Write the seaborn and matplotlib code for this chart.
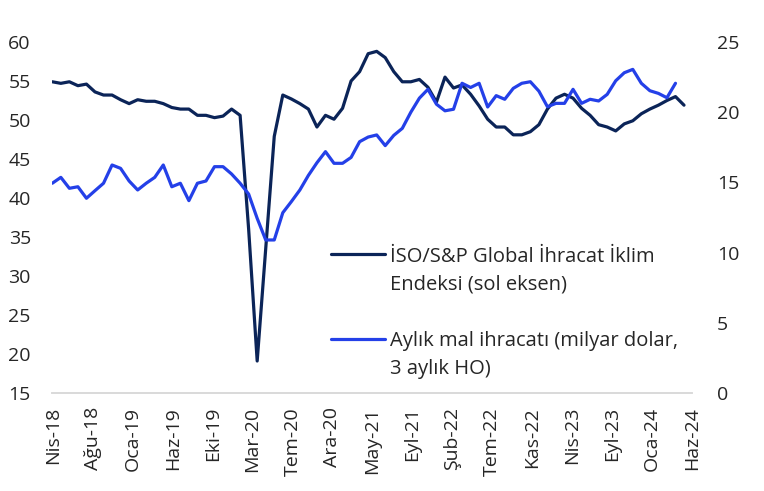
import numpy as np
import pandas as pd
import matplotlib
matplotlib.use("Agg")
import matplotlib.pyplot as plt
from matplotlib.lines import Line2D
import seaborn as sns

# ---- data (monthly, Apr 2018 onwards) ----
pmi_export = [54.9, 54.7, 54.9, 54.4, 54.6, 53.6, 53.2, 53.2, 52.6, 52.1,
              52.6, 52.4, 52.4, 52.1, 51.6, 51.4, 51.4, 50.6, 50.6, 50.3,
              50.5, 51.4, 50.6, 36.0, 19.1, 33.5, 47.9, 53.2, 52.7, 52.1,
              51.4, 49.1, 50.6, 50.1, 51.5, 55.0, 56.2, 58.5, 58.8, 58.0,
              56.2, 54.9, 54.9, 55.2, 54.2, 52.3, 55.5, 54.1, 54.5, 53.3,
              51.8, 50.1, 49.1, 49.1, 48.1, 48.1, 48.5, 49.4, 51.4, 52.8,
              53.3, 52.8, 51.5, 50.6, 49.4, 49.1, 48.6, 49.5, 49.9, 50.8,
              51.4, 51.9, 52.5, 53.0, 51.9]
exports_bn = [14.94, 15.36, 14.58, 14.69, 13.87, 14.41, 14.94, 16.24, 16.00, 15.10,
              14.46, 14.94, 15.36, 16.24, 14.69, 14.94, 13.70, 14.94, 15.10, 16.12,
              16.12, 15.60, 14.94, 14.17, 12.44, 10.90, 10.90, 12.84, 13.63, 14.46,
              15.50, 16.40, 17.19, 16.36, 16.36, 16.78, 17.90, 18.23, 18.38, 17.62,
              18.35, 18.85, 20.00, 21.00, 21.63, 20.57, 20.10, 20.21, 22.06, 21.76,
              22.06, 20.37, 21.18, 20.92, 21.70, 22.06, 22.17, 21.50, 20.39, 20.63,
              20.63, 21.63, 20.63, 20.92, 20.80, 21.27, 22.24, 22.81, 23.05, 22.06,
              21.53, 21.34, 21.03, 22.06]
tick_labels = ["Nis-18", "Ağu-18", "Oca-19", "Haz-19", "Eki-19", "Mar-20", "Tem-20",
               "Ara-20", "May-21", "Eyl-21", "Şub-22", "Tem-22", "Kas-22", "Nis-23",
               "Eyl-23", "Oca-24", "Haz-24"]
label_pmi = "İSO/S&P Global İhracat İklim"
label_pmi2 = "Endeksi (sol eksen)"
label_exp = "Aylık mal ihracatı (milyar dolar,"
label_exp2 = "3 aylık HO)"

df1 = pd.DataFrame({"m": np.arange(len(pmi_export)), "v": pmi_export})
df2 = pd.DataFrame({"m": np.arange(len(exports_bn)), "v": exports_bn})

sns.set_theme(style="white")
plt.rcParams["font.family"] = ["Open Sans", "DejaVu Sans"]

NAVY = "#0B2458"
BLUE = "#2440E8"
TXT = "#262626"

fig = plt.figure(figsize=(7.64, 4.91), dpi=100)
ax = fig.add_axes([51.7 / 764, 1 - 393 / 491, 640 / 764, 351 / 491])
ax2 = ax.twinx()

sns.lineplot(data=df1, x="m", y="v", ax=ax, color=NAVY, linewidth=2.3)
sns.lineplot(data=df2, x="m", y="v", ax=ax2, color=BLUE, linewidth=2.3)

ax.set_xlim(-0.07, 74.78)
ax.set_ylim(15, 60)
ax2.set_ylim(0, 25)
ax.set_yticks(np.arange(15, 61, 5))
ax2.set_yticks(np.arange(0, 26, 5))
ax.set_xticks(np.linspace(0.08, 74.9, len(tick_labels)))
ax.set_xticklabels(tick_labels, rotation=90, ha="center", va="top")

for a in (ax, ax2):
    a.set_xlabel("")
    a.set_ylabel("")
    for s in ("left", "right", "top"):
        a.spines[s].set_visible(False)
    a.spines["bottom"].set_color("#D9D9D9")
    a.spines["bottom"].set_linewidth(1.2)
    a.grid(False)

ax.tick_params(axis="x", length=0, pad=10, labelsize=14, labelcolor=TXT)
ax.tick_params(axis="y", length=0, pad=15, labelsize=14, labelcolor=TXT)
ax2.tick_params(axis="y", length=0, pad=18, labelsize=14, labelcolor=TXT)

blank = Line2D([], [], color="none")
handles = [Line2D([], [], color=NAVY, lw=2.3), blank, blank,
           Line2D([], [], color=BLUE, lw=2.3), blank]
labels = [label_pmi, label_pmi2, "", label_exp, label_exp2]
leg = ax2.legend(handles, labels, loc="upper left",
                 bbox_to_anchor=((331 - 51.7) / 640, (393 - 246.5) / 351),
                 frameon=False, fontsize=14.5, handlelength=2.68,
                 handletextpad=0.25, labelspacing=0.4, borderpad=0,
                 borderaxespad=0)
for t in leg.get_texts():
    t.set_color(TXT)

fig.savefig("out.png", dpi=100)
